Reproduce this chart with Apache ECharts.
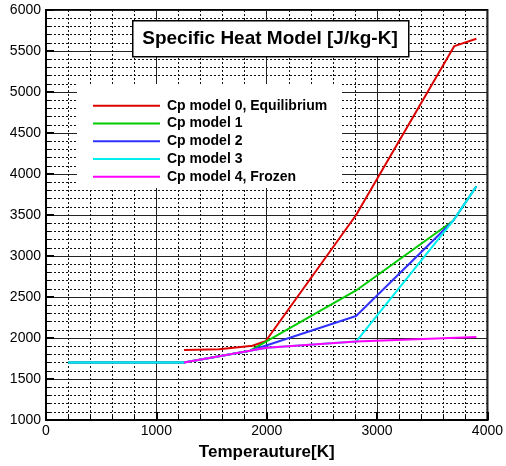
<!DOCTYPE html>
<html>
<head>
<meta charset="utf-8">
<script src="https://cdn.jsdelivr.net/npm/echarts@6/dist/echarts.min.js"></script>
<style>
html,body{margin:0;padding:0;background:#fff;}
#chart{width:506px;height:466px;}
</style>
</head>
<body>
<div id="chart"></div>
<script>
// Data: [Temperature K, Cp J/kg-K]
const seriesNames = ['Cp model 0, Equilibrium', 'Cp model 1', 'Cp model 2', 'Cp model 3', 'Cp model 4, Frozen'];
const seriesColors = ['#dd0000', '#00cc00', '#3030ff', '#00f0f0', '#ff00ff'];
const model0 = [[1250, 1855], [1570, 1862], [1870, 1905], [1990, 1960], [2810, 3500], [3700, 5560], [3900, 5650]];
const model1 = [[200, 1700], [1250, 1700], [1850, 1845], [2810, 2580], [3690, 3430], [3900, 3850]];
const model2 = [[200, 1700], [1250, 1700], [1850, 1845], [2810, 2268], [3690, 3430], [3900, 3850]];
const model3 = [[200, 1700], [1250, 1700], [2000, 1880], [2810, 1957], [3690, 3430], [3900, 3850]];
const model4 = [[1250, 1700], [2000, 1880], [2810, 1957], [3900, 2012]];
const seriesData = [model0, model1, model2, model3, model4];
const xTicks = {min: 0, max: 4000, interval: 1000};
const yTicks = {min: 1000, max: 6000, interval: 500};
const titleText = 'Specific Heat Model [J/kg-K]';
const xAxisName = 'Temperauture[K]';

const chart = echarts.init(document.getElementById('chart'), null, {renderer: 'canvas'});
const FONT = 'Liberation Sans, Arial, sans-serif';

const axisCommon = {
  axisLine: {show: true, onZero: false, lineStyle: {color: '#000', width: 2}},
  axisTick: {show: true, inside: true, length: 8, lineStyle: {color: '#000', width: 2}},
  minorTick: {show: true, splitNumber: 5, length: 4, lineStyle: {color: '#000', width: 1}},
  splitLine: {show: true, lineStyle: {color: '#222', width: 1}},
  minorSplitLine: {show: true, lineStyle: {color: '#111', width: 1, type: [2, 2]}},
  axisLabel: {color: '#000', fontFamily: FONT, fontSize: 14, formatter: v => String(v)}
};

const option = {
  backgroundColor: '#fff',
  animation: false,
  grid: {left: 46, right: 16, top: 10, bottom: 36, show: true, borderColor: '#000', borderWidth: 2, backgroundColor: 'transparent'},
  xAxis: Object.assign({}, axisCommon, {
    type: 'value', min: xTicks.min, max: xTicks.max, interval: xTicks.interval,
    name: xAxisName, nameLocation: 'middle', nameGap: 24,
    nameTextStyle: {color: '#000', fontFamily: FONT, fontSize: 17, fontWeight: 'bold'},
    axisLabel: Object.assign({}, axisCommon.axisLabel, {margin: 4})
  }),
  yAxis: Object.assign({}, axisCommon, {
    type: 'value', min: yTicks.min, max: yTicks.max, interval: yTicks.interval,
    axisLabel: Object.assign({}, axisCommon.axisLabel, {margin: 5})
  }),
  legend: {
    orient: 'vertical', left: 88, top: 92, itemWidth: 67, itemHeight: 2, itemGap: 0,
    icon: 'rect', z: 6,
    textStyle: {color: '#000', fontFamily: FONT, fontSize: 14, fontWeight: 'bold', lineHeight: 17.7, padding: [0, 0, 0, 2]},
    data: seriesNames
  },
  graphic: [
    {type: 'rect', left: 77, top: 84, shape: {width: 265, height: 104}, style: {fill: '#fff'}, z: 1, silent: true},
    {type: 'rect', left: 132, top: 20, shape: {width: 276, height: 36}, style: {fill: '#fff', stroke: '#000', lineWidth: 1.5}, z: 5, silent: true},
    {type: 'text', x: 270, y: 39, style: {text: titleText, fill: '#000', font: 'bold 19px ' + FONT, textAlign: 'center', textVerticalAlign: 'middle'}, z: 6, silent: true}
  ],
  series: seriesNames.map((n, i) => ({
    name: n, type: 'line', data: seriesData[i], showSymbol: false, symbol: 'none',
    lineStyle: {color: seriesColors[i], width: 2}, itemStyle: {color: seriesColors[i]}, z: 2 + i
  }))
};
chart.setOption(option);
</script>
</body>
</html>
